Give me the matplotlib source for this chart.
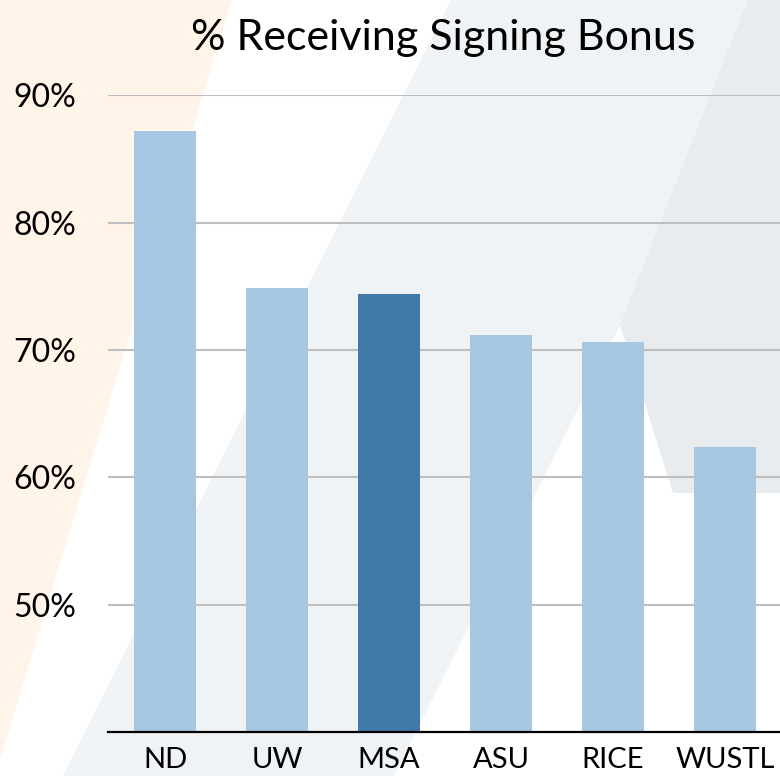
import matplotlib
matplotlib.use("Agg")
import matplotlib.pyplot as plt
from matplotlib.patches import Polygon
from matplotlib.ticker import FuncFormatter

# ---- Data ----
schools = ["ND", "UW", "MSA", "ASU", "RICE", "WUSTL"]
pct_bonus = [87.2, 74.9, 74.4, 71.2, 70.6, 62.4]
highlight = "MSA"
y_ticks = [50, 60, 70, 80, 90]

light_blue = "#A6C6E1"
dark_blue = "#4079AA"

plt.rcParams["font.family"] = ["Lato", "DejaVu Sans"]

fig = plt.figure(figsize=(7.8, 7.76), dpi=100)
fig.patch.set_facecolor("white")

# ---- Background decoration (pixel coords, y down) ----
bg = fig.add_axes([0, 0, 1, 1], zorder=0)
bg.set_xlim(0, 780)
bg.set_ylim(776, 0)
bg.axis("off")
shapes = [
    ([(0, 0), (232, 0), (0, 760)], "#FEF4E8"),
    ([(451, 0), (780, 0), (780, 776), (63, 776)], "#EFF3F6"),
    ([(748, 0), (780, 0), (780, 493), (673, 493), (620, 325)], "#E8ECEE"),
    ([(620, 325), (673, 493), (780, 493), (780, 776), (394, 776)], "#FFFFFF"),
]
for pts, col in shapes:
    bg.add_patch(Polygon(pts, closed=True, facecolor=col, edgecolor="none"))

# ---- Chart ----
ax = fig.add_axes([108 / 780, 44 / 776, 673 / 780, (732 - 95.3) / 776], zorder=1)
ax.set_facecolor("none")

colors = [dark_blue if s == highlight else light_blue for s in schools]
ax.bar(range(len(schools)), pct_bonus, width=0.555, color=colors, zorder=3)

ax.set_xlim(-0.51, 5.5)
ax.set_ylim(40, 90)
ax.set_yticks(y_ticks)
ax.yaxis.set_major_formatter(FuncFormatter(lambda v, p: f"{v:.0f}%"))
ax.set_xticks(range(len(schools)))
ax.set_xticklabels(schools)

ax.grid(axis="y", color="#BEBEBE", linewidth=1.5, zorder=1)
ax.set_axisbelow(True)
for side in ["top", "right", "left"]:
    ax.spines[side].set_visible(False)
ax.spines["bottom"].set_color("black")
ax.spines["bottom"].set_linewidth(1.6)
ax.spines["bottom"].set_zorder(4)

ax.tick_params(axis="y", length=0, pad=23, labelsize=23)
ax.tick_params(axis="x", length=0, pad=11, labelsize=21)

fig.text(443 / 780, 1 - 50 / 776, "% Receiving Signing Bonus",
         ha="center", va="baseline", fontsize=31)

fig.savefig("out.png", dpi=100)
plt.close(fig)
